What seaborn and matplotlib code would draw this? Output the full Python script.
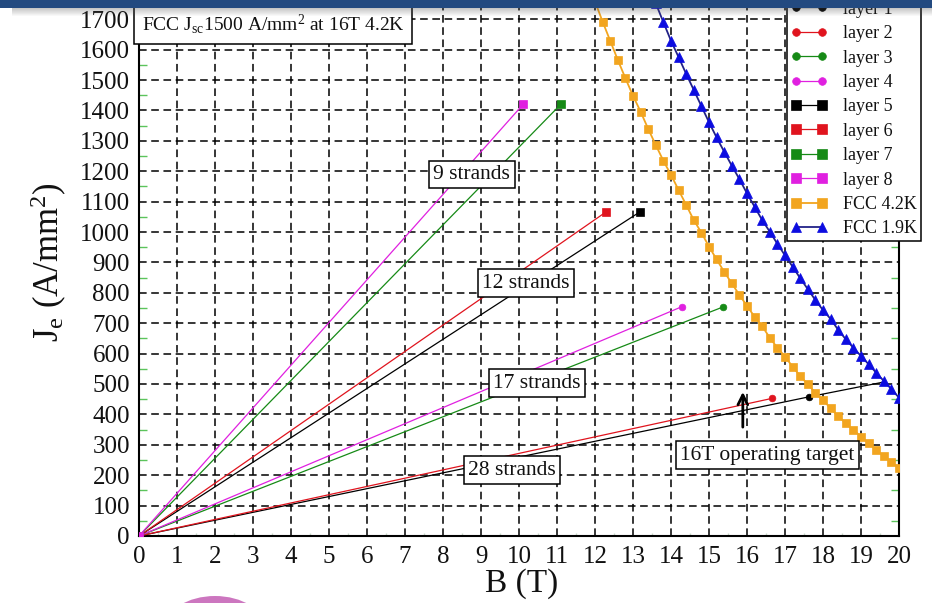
import matplotlib
matplotlib.use("Agg")
import matplotlib.pyplot as plt
import numpy as np
import pandas as pd
import seaborn as sns
from matplotlib.patches import Rectangle, Ellipse
from matplotlib.ticker import MultipleLocator

# ---------------------------------------------------------------- data
# Load lines of the eight coil layers: end point of each line (B, Je)
layer_names = ["layer 1", "layer 2", "layer 3", "layer 4",
               "layer 5", "layer 6", "layer 7", "layer 8"]
layer_b_end = [17.64, 16.67, 15.38, 14.28, 13.18, 12.29, 11.10, 10.11]
layer_je_end = [458, 453, 754, 754, 1066, 1066, 1420, 1420]

# Layer 1 load line continued up to the 1.9 K critical curve
layer1_ext_b = [17.64, 19.62]
layer1_ext_je = [458, 507]

# Critical engineering current density of the FCC conductor at 4.2 K
fcc42_b = [12.0, 12.2, 12.4, 12.6, 12.8, 13.0, 13.2, 13.4, 13.6, 13.8,
           14.0, 14.2, 14.4, 14.6, 14.8, 15.0, 15.2, 15.4, 15.6, 15.8,
           16.0, 16.2, 16.4, 16.6, 16.8, 17.0, 17.2, 17.4, 17.6, 17.8,
           18.0, 18.2, 18.4, 18.6, 18.8, 19.0, 19.2, 19.4, 19.6, 19.8, 20.0]
fcc42_je = [1758, 1692, 1629, 1566, 1506, 1448, 1396, 1339, 1286, 1234,
            1188, 1138, 1089, 1039, 998, 952, 910, 869, 831, 793,
            757, 721, 690, 652, 619, 590, 557, 526, 499, 471,
            447, 420, 394, 371, 349, 327, 305, 283, 263, 243, 225]

# ... and at 1.9 K
fcc19_b = [13.6, 13.8, 14.0, 14.2, 14.4, 14.6, 14.8, 15.0, 15.2, 15.4, 15.6,
           15.8, 16.0, 16.2, 16.4, 16.6, 16.8, 17.0, 17.2, 17.4, 17.6,
           17.8, 18.0, 18.2, 18.4, 18.6, 18.8, 19.0, 19.2, 19.4, 19.6,
           19.8, 20.0]
fcc19_je = [1752, 1690, 1629, 1575, 1520, 1467, 1414, 1361, 1311, 1264, 1218,
            1174, 1127, 1083, 1039, 1001, 961, 923, 886, 848, 812,
            776, 743, 714, 678, 647, 619, 592, 565, 537, 510,
            483, 455]

x_ticks = list(range(0, 21))
y_ticks = list(range(0, 1801, 100))

# Strand-count labels: text, position (B, Je)
strand_texts = ["9 strands", "12 strands", "17 strands", "28 strands"]
strand_b = [8.76, 10.18, 10.47, 9.82]
strand_je = [1189, 832, 503, 217]

target_b = 15.89
target_je_from = 349
target_je_to = 483

# ---------------------------------------------------------------- style
sns.set_style("white")
plt.rcParams["font.family"] = ["Liberation Serif", "DejaVu Serif"]
plt.rcParams["mathtext.fontset"] = "custom"
plt.rcParams["mathtext.rm"] = "Liberation Serif"
plt.rcParams["mathtext.it"] = "Liberation Serif:italic"
plt.rcParams["mathtext.bf"] = "Liberation Serif:bold"

RED = "#e0141e"
GREEN = "#168a16"
MAGENTA = "#e020e0"
ORANGE = "#f2a51f"
BLUE = "#0c0ce0"
NAVY = "#222288"

layer_colors = ["black", RED, GREEN, MAGENTA, "black", RED, GREEN, MAGENTA]
layer_markers = ["o", "o", "o", "o", "s", "s", "s", "s"]
layer_msize = [4.8, 4.8, 4.8, 4.8, 5.8, 5.8, 5.8, 5.8]

W, H = 932, 603
fig = plt.figure(figsize=(W / 100, H / 100), dpi=100)
fig.patch.set_facecolor("white")

# axes: B=0 at x=139 px, B=20 at x=899 px, Je=0 at y=536 px, 30.4 px per 100
y_max = 1800
px_per_je = 0.304
ax_h = y_max * px_per_je
ax = fig.add_axes([139 / W, (H - 536) / H, 760 / W, ax_h / H])

# ---------------------------------------------------------------- lines
for name, b, je, c, m, ms in zip(layer_names, layer_b_end, layer_je_end,
                                 layer_colors, layer_markers, layer_msize):
    df = pd.DataFrame({"B": [0.0, b], "Je": [0.0, je]})
    sns.lineplot(data=df, x="B", y="Je", ax=ax, color=c, lw=0.9,
                 marker=m, markersize=ms, markerfacecolor=c,
                 markeredgecolor=c, markeredgewidth=0.5,
                 sort=False, estimator=None, label=name, zorder=3)

sns.lineplot(x=layer1_ext_b, y=layer1_ext_je, ax=ax, color="black", lw=0.9,
             sort=False, estimator=None, zorder=3)

sns.lineplot(x=fcc42_b, y=fcc42_je, ax=ax, color=ORANGE, lw=1.3,
             marker="s", markersize=6.0, markerfacecolor=ORANGE,
             markeredgecolor=ORANGE, markeredgewidth=0.5,
             sort=False, estimator=None, label="FCC 4.2K", zorder=4)
sns.lineplot(x=fcc19_b, y=fcc19_je, ax=ax, color=NAVY, lw=1.3,
             marker="^", markersize=6.8, markerfacecolor=BLUE,
             markeredgecolor=BLUE, markeredgewidth=0.5,
             sort=False, estimator=None, label="FCC 1.9K", zorder=4)

# ---------------------------------------------------------------- axes
ax.set_xlim(0, 20)
ax.set_ylim(0, y_max)
ax.set_xticks(x_ticks)
ax.set_yticks(y_ticks)
ax.xaxis.set_minor_locator(MultipleLocator(0.5))
ax.yaxis.set_minor_locator(MultipleLocator(50))
ax.set_axisbelow(True)
ax.grid(True, which="major", color="black", linestyle=(0, (5, 3)),
        linewidth=1.1)

for side in ["left", "bottom", "right", "top"]:
    ax.spines[side].set_visible(True)
    ax.spines[side].set_color("black")
    ax.spines[side].set_linewidth(1.5)

ax.tick_params(axis="both", which="major", direction="in", length=5,
               width=1.2, color="black", labelsize=18, labelcolor="#111111")
ax.tick_params(axis="x", which="major", pad=7)
ax.tick_params(axis="y", which="major", pad=6.5)
ax.tick_params(axis="y", which="minor", direction="in", length=6,
               width=1.0, color="#5cc45c", left=True, right=True)
ax.tick_params(axis="x", which="minor", direction="in", length=2,
               width=1.0, color="#c8d8c8", bottom=True, top=False)

ax.set_xlabel("B (T)", fontsize=24, color="#111111")
ax.set_ylabel(r"J$_{\rm e}$ (A/mm$^{2}$)", fontsize=25, color="#111111")
ax.xaxis.set_label_coords(0.503, -0.058)
ax.yaxis.set_label_coords(-0.092, 0.50)

# ---------------------------------------------------------------- text
box = dict(boxstyle="square,pad=0.2", facecolor="white", edgecolor="black",
           linewidth=1.1)
for t, b, je in zip(strand_texts, strand_b, strand_je):
    ax.text(b, je, t, fontsize=15.5, ha="center", va="center", bbox=box,
            color="#111111", zorder=6)

ax.text(16.54, 266, "16T operating target", fontsize=15.5, ha="center",
        va="center", bbox=box, color="#111111", zorder=6)

ax.annotate("", xy=(target_b, target_je_to), xytext=(target_b, target_je_from),
            arrowprops=dict(arrowstyle="->,head_length=0.7,head_width=0.35",
                            lw=2.0, color="black"), zorder=6)

ax.text(3.53, 1684, r"FCC J$_{\rm sc}$1500 A/mm$^{2}$ at 16T 4.2K",
        fontsize=14, ha="center", va="center", color="#111111",
        bbox=dict(boxstyle="square,pad=0.4", facecolor="white",
                  edgecolor="black", linewidth=1.1), zorder=6)

# ---------------------------------------------------------------- legend
leg = ax.legend(loc="lower right", bbox_to_anchor=(921 / W, 1 - 241 / H),
                bbox_transform=fig.transFigure, numpoints=2, fontsize=13,
                frameon=True, fancybox=False, framealpha=1,
                edgecolor="black", borderpad=0.2, labelspacing=0.41,
                handlelength=2.0, handletextpad=0.9, borderaxespad=0,
                markerscale=1.15)
leg.get_frame().set_linewidth(1.1)
for txt in leg.get_texts():
    txt.set_color("#111111")

# ---------------------------------------------------------------- slide band
fig.patches.append(Rectangle((0, 1 - 8 / H), 1, 8 / H,
                             transform=fig.transFigure, facecolor="#234a80",
                             edgecolor="none", zorder=20))
for i in range(8):
    fig.patches.append(Rectangle((12 / W, 1 - (8 + i + 1) / H), 1 - 12 / W,
                                 1 / H, transform=fig.transFigure,
                                 facecolor="#505050", alpha=0.32 * (1 - i / 8),
                                 edgecolor="none", zorder=19))
fig.patches.append(Ellipse((215 / W, 1 - 628 / H), 100 / W, 64 / H,
                           transform=fig.transFigure, facecolor="#c054b0",
                           edgecolor="none", alpha=0.8, zorder=20))

fig.savefig("out.png", dpi=100)
